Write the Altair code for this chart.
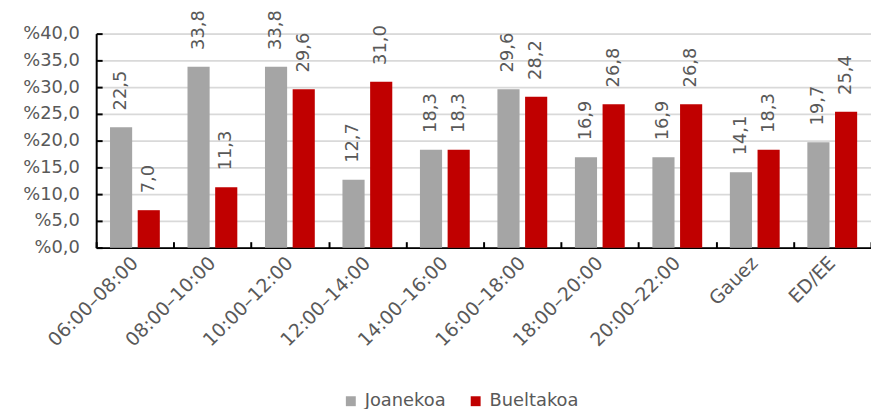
import altair as alt
import pandas as pd

categories = ["06:00–08:00", "08:00–10:00", "10:00–12:00", "12:00–14:00", "14:00–16:00",
              "16:00–18:00", "18:00–20:00", "20:00–22:00", "Gauez", "ED/EE"]
joanekoa = [22.5, 33.8, 33.8, 12.7, 18.3, 29.6, 16.9, 16.9, 14.1, 19.7]
bueltakoa = [7.0, 11.3, 29.6, 31.0, 18.3, 28.2, 26.8, 26.8, 18.3, 25.4]
series = ["Joanekoa", "Bueltakoa"]
colors = ["#a5a5a5", "#c00000"]
y_ticks = [0, 5, 10, 15, 20, 25, 30, 35, 40]

rows = []
for c, j, b in zip(categories, joanekoa, bueltakoa):
    rows.append({"cat": c, "serie": "Joanekoa", "value": j})
    rows.append({"cat": c, "serie": "Bueltakoa", "value": b})
df = pd.DataFrame(rows)

FONT = "DejaVu Sans"
TXT = "#595959"

xscale = alt.Scale(domain=categories, paddingInner=0, paddingOuter=0)
yscale = alt.Scale(domain=[0, 40], nice=False)
xoff = alt.XOffset("serie:N", sort=series,
                   scale=alt.Scale(domain=series, paddingInner=0.2, paddingOuter=0.5))

bars = alt.Chart(df).mark_bar().encode(
    x=alt.X("cat:N", sort=categories, scale=xscale,
            axis=alt.Axis(title=None, orient="bottom", labelAngle=-45, labelAlign="right",
                          labelBaseline="middle",
                          labelFontSize=19, labelColor=TXT, labelPadding=12, ticks=False,
                          domainColor="black", domainWidth=2, grid=False, labelLimit=0,
                          labelOverlap=False, labelFont=FONT)),
    xOffset=xoff,
    y=alt.Y("value:Q", scale=yscale,
            axis=alt.Axis(title=None, orient="left", values=y_ticks,
                          labelExpr="'%' + replace(format(datum.value, '.1f'), '.', ',')",
                          labelFontSize=18, labelColor=TXT, labelPadding=17, ticks=False,
                          domainColor="black", domainWidth=2, grid=True,
                          gridColor="#d9d9d9", gridWidth=2, labelFont=FONT)),
    color=alt.Color("serie:N", sort=series, scale=alt.Scale(domain=series, range=colors),
                    legend=alt.Legend(title=None, orient="none", legendX=248, legendY=362,
                                      direction="horizontal", symbolType="square",
                                      symbolSize=100, symbolStrokeWidth=0,
                                      labelFontSize=18, labelColor=TXT, labelFont=FONT,
                                      columnPadding=21, labelOffset=5)),
)

labels = alt.Chart(df).transform_calculate(
    label="replace(format(datum.value, '.1f'), '.', ',')"
).mark_text(align="left", baseline="middle", dx=17, fontSize=18,
            color=TXT, font=FONT).encode(
    x=alt.X("cat:N", sort=categories, scale=xscale, axis=None),
    xOffset=xoff,
    y=alt.Y("value:Q", scale=yscale, axis=None),
    text="label:N",
    angle=alt.value(270),
)

ticks = alt.Chart(df).mark_bar(opacity=0).encode(
    x=alt.X("cat:N", sort=categories, scale=xscale,
            axis=alt.Axis(orient="bottom", title=None, labels=False, domain=False, grid=False,
                          ticks=True, tickSize=6, tickColor="black", tickWidth=2,
                          tickBand="extent", offset=-6)),
    y=alt.Y("value:Q", scale=yscale,
            axis=alt.Axis(orient="left", title=None, values=y_ticks, labels=False,
                          domain=False, grid=False, ticks=True, tickSize=6,
                          tickColor="black", tickWidth=2, offset=-6)),
)

chart = alt.layer(bars, ticks, labels).resolve_axis(
    x="independent", y="independent"
).properties(
    width=782, height=216,
    autosize=alt.AutoSizeParams(type="none"),
    padding={"left": 89, "top": 24, "right": 0, "bottom": 161},
    background="white",
).configure_view(stroke=None).configure(font=FONT)

chart.save("out.html", embed_options={"renderer": "svg", "actions": False})
